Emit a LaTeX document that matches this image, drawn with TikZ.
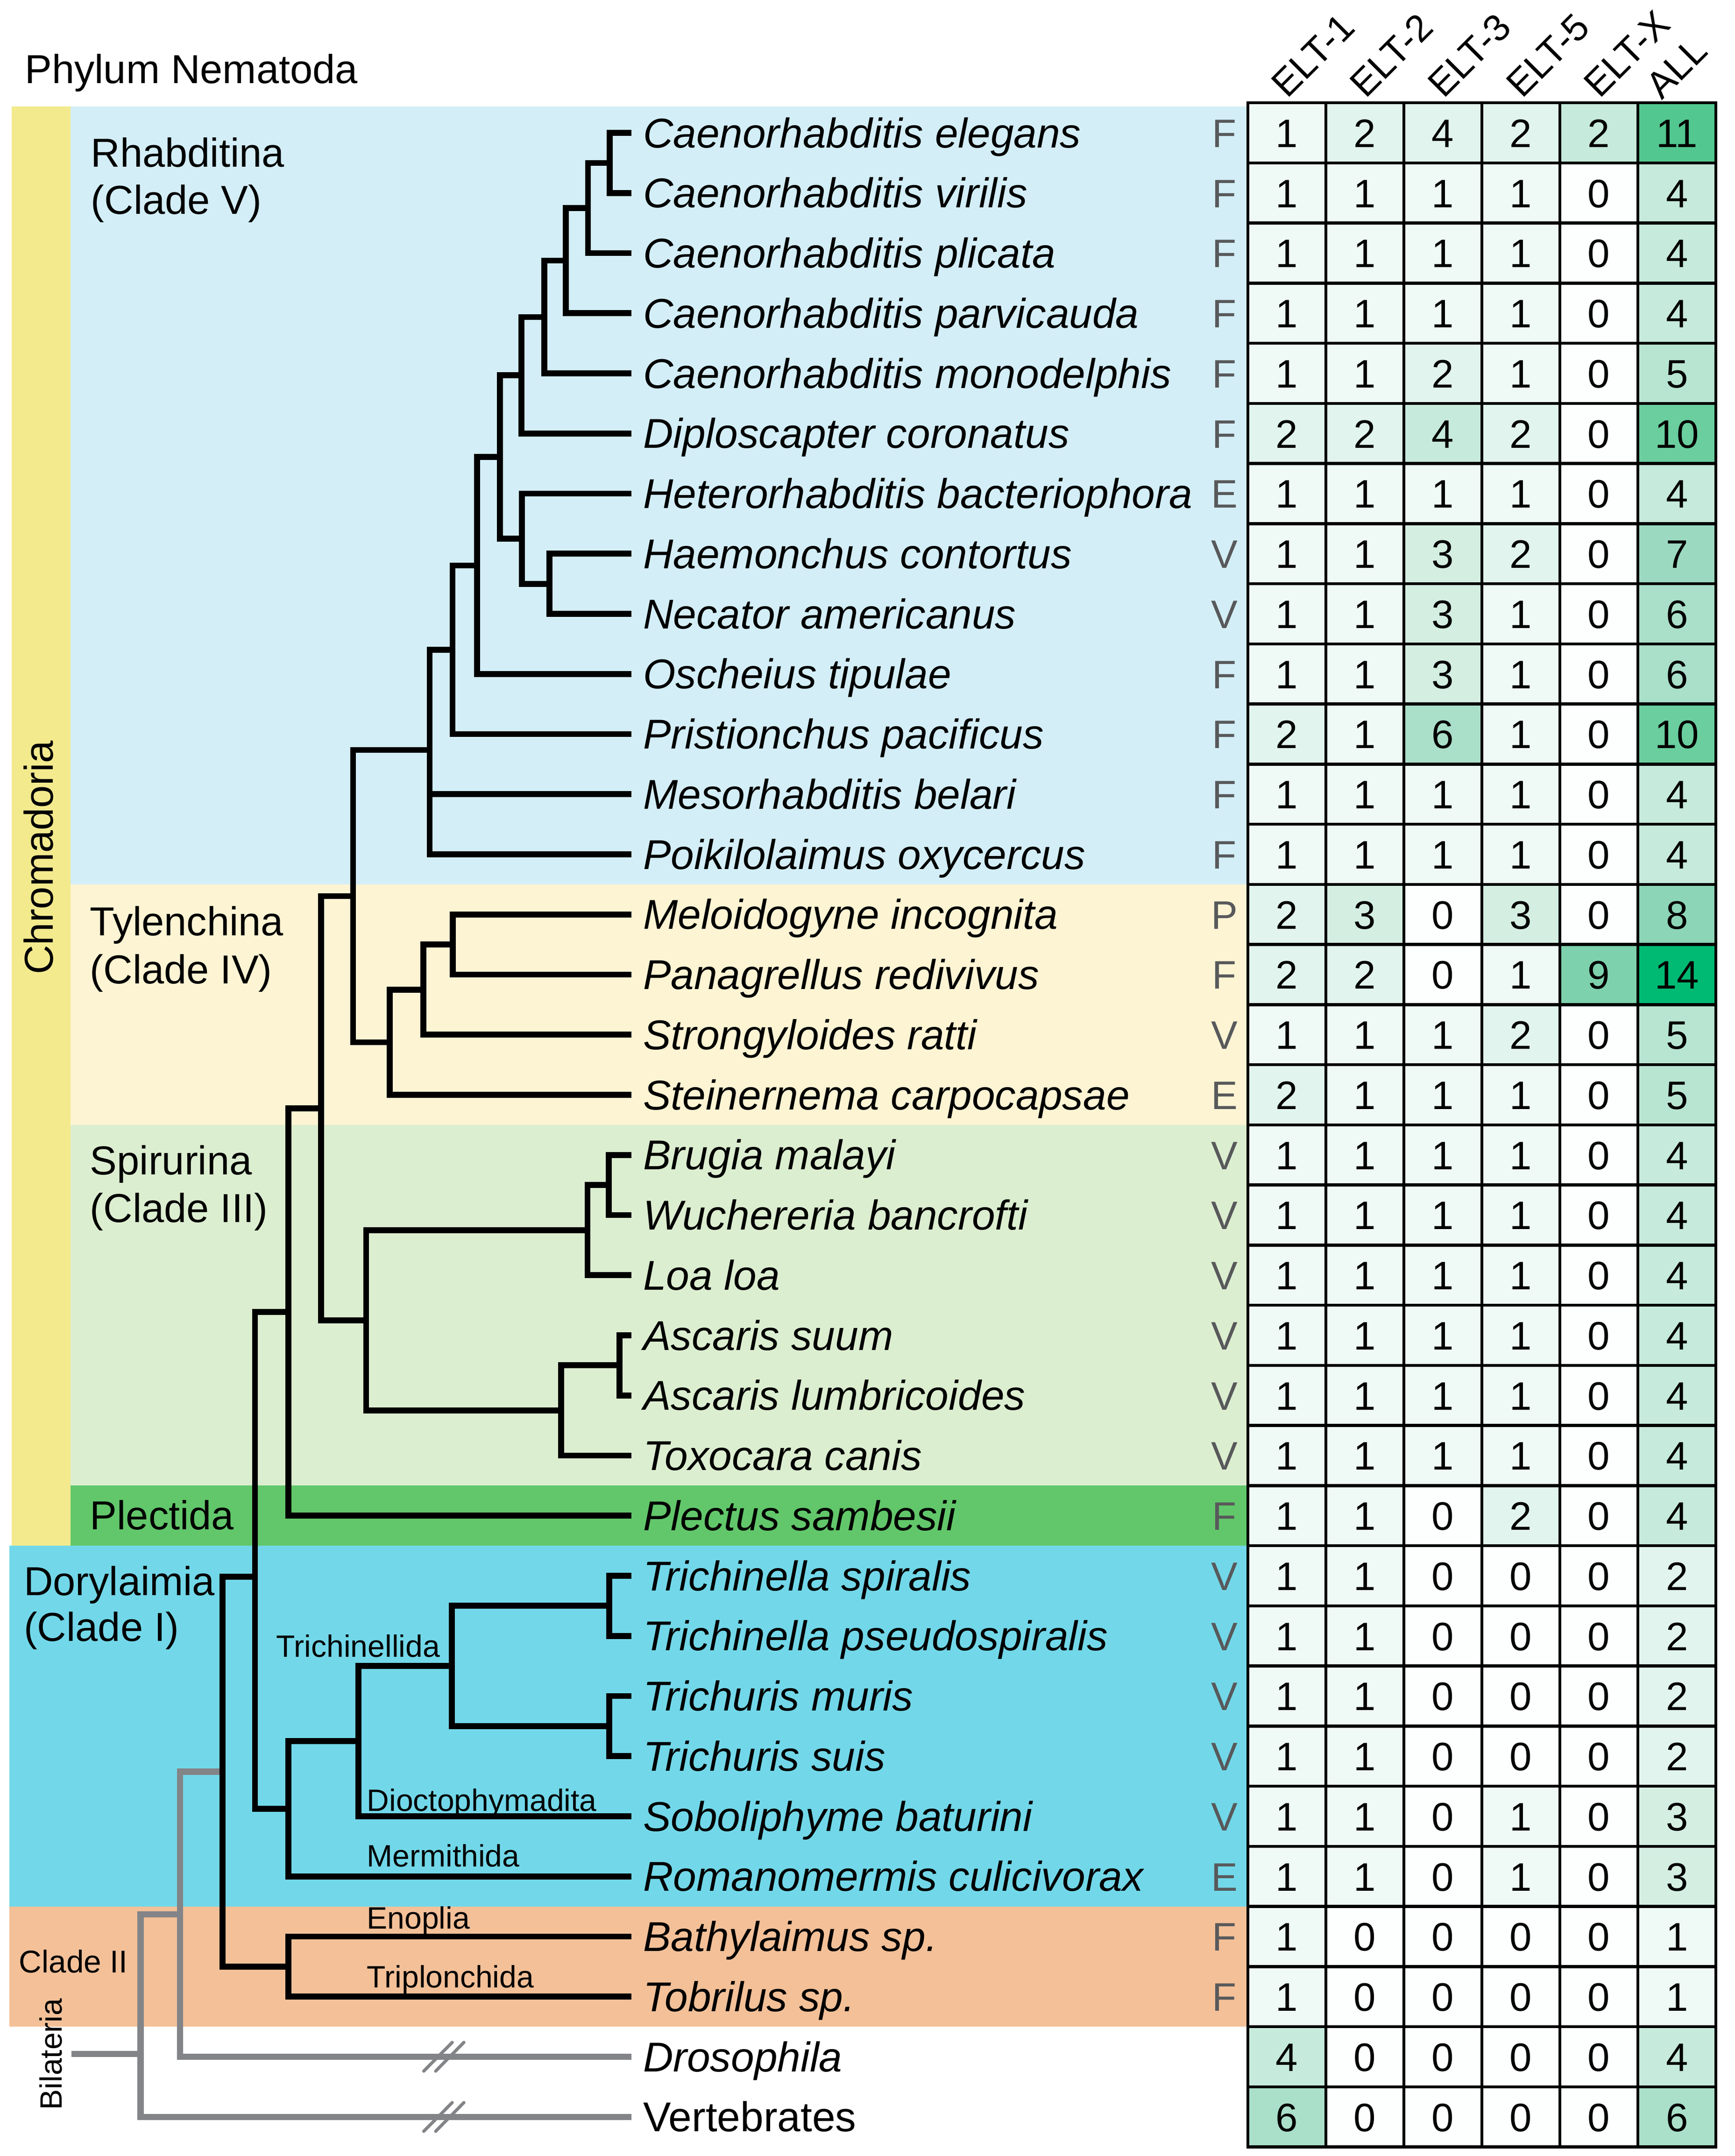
\documentclass[tikz,border=0pt]{standalone}
\usepackage{fontspec}
\setmainfont{Liberation Sans}
\definecolor{cYel}{RGB}{243,234,142}
\definecolor{cRha}{RGB}{211,238,247}
\definecolor{cTyl}{RGB}{253,244,211}
\definecolor{cSpi}{RGB}{220,238,208}
\definecolor{cPle}{RGB}{98,199,106}
\definecolor{cDor}{RGB}{114,216,233}
\definecolor{cClII}{RGB}{243,192,152}
\definecolor{cGray}{RGB}{131,132,136}
\definecolor{cLife}{RGB}{88,89,91}
\definecolor{v0}{RGB}{253,254,254}
\definecolor{v1}{RGB}{239,249,246}
\definecolor{v2}{RGB}{225,244,237}
\definecolor{v3}{RGB}{212,239,226}
\definecolor{v4}{RGB}{198,234,219}
\definecolor{v5}{RGB}{184,229,210}
\definecolor{v6}{RGB}{170,223,201}
\definecolor{v7}{RGB}{155,218,192}
\definecolor{v8}{RGB}{141,213,183}
\definecolor{v9}{RGB}{125,209,172}
\definecolor{v10}{RGB}{106,206,158}
\definecolor{v11}{RGB}{82,199,143}
\definecolor{v14}{RGB}{0,186,116}
\newcommand\fsz[2]{\fontsize{#1}{#2}\selectfont}
\begin{document}
\begin{tikzpicture}[x=1pt,y=-1pt,
  tree/.style={line width=4.3pt, black, line join=miter},
  gline/.style={line width=4.5pt, draw=cGray},
  slashmark/.style={line width=2.3pt, draw=cGray, line cap=round},
  gridline/.style={line width=2.2pt, black},
  lbl/.style={inner sep=0pt, outer sep=0pt, anchor=base west, font=\fsz{29.5}{35}},
  spname/.style={inner sep=0pt, outer sep=0pt, anchor=base west, font=\fsz{30.4}{36}\itshape},
  sublbl/.style={inner sep=0pt, outer sep=0pt, anchor=base west, font=\fsz{22.5}{27}},
  num/.style={inner sep=0pt, outer sep=0pt, anchor=base, font=\fsz{29}{35}},
  life/.style={inner sep=0pt, outer sep=0pt, anchor=base, font=\fsz{29}{35}, text=cLife},
  hdr/.style={inner sep=0pt, outer sep=0pt, anchor=base west, rotate=45, font=\fsz{27.5}{33}},
]
\useasboundingbox (0,0) rectangle (1265,1572.5);

% ---------- background bands ----------
\fill[cYel] (8.6,77.5) rectangle (51.5,1127.4);
\fill[cRha] (51.5,77.5) rectangle (910,645.05);
\fill[cTyl] (51.5,645.05) rectangle (910,820.45);
\fill[cSpi] (51.5,820.45) rectangle (910,1083.55);
\fill[cPle] (51.5,1083.55) rectangle (910,1127.4);
\fill[cDor] (6.9,1127.4) rectangle (910,1390.5);
\fill[cClII] (6.9,1390.5) rectangle (910,1478.2);

% ---------- table cell fills ----------
\def\tablerows{0/1/2/4/2/2/11, 1/1/1/1/1/0/4, 2/1/1/1/1/0/4, 3/1/1/1/1/0/4,
  4/1/1/2/1/0/5, 5/2/2/4/2/0/10, 6/1/1/1/1/0/4, 7/1/1/3/2/0/7, 8/1/1/3/1/0/6,
  9/1/1/3/1/0/6, 10/2/1/6/1/0/10, 11/1/1/1/1/0/4, 12/1/1/1/1/0/4, 13/2/3/0/3/0/8,
  14/2/2/0/1/9/14, 15/1/1/1/2/0/5, 16/2/1/1/1/0/5, 17/1/1/1/1/0/4, 18/1/1/1/1/0/4,
  19/1/1/1/1/0/4, 20/1/1/1/1/0/4, 21/1/1/1/1/0/4, 22/1/1/1/1/0/4, 23/1/1/0/2/0/4,
  24/1/1/0/0/0/2, 25/1/1/0/0/0/2, 26/1/1/0/0/0/2, 27/1/1/0/0/0/2, 28/1/1/0/1/0/3,
  29/1/1/0/1/0/3, 30/1/0/0/0/0/1, 31/1/0/0/0/0/1, 32/4/0/0/0/0/4, 33/6/0/0/0/0/6}
\foreach \r/\a/\b/\c/\d/\e/\f in \tablerows {
  \foreach \cc/\v in {0/\a,1/\b,2/\c,3/\d,4/\e,5/\f} {
    \pgfmathtruncatemacro\vv{\v}
    \fill[fill=v\vv] ({910+56.9*\cc},{75+43.85*\r}) rectangle ++(56.9,43.85);
  }
}
% shading as printed in the first row
\fill[fill=v2] ({910+56.9*2},75) rectangle ++(56.9,43.85);
\fill[fill=v4] ({910+56.9*4},75) rectangle ++(56.9,43.85);
\foreach \r/\a/\b/\c/\d/\e/\f in \tablerows {
  \foreach \cc/\v in {0/\a,1/\b,2/\c,3/\d,4/\e,5/\f} {
    \node[num] (t\r-\cc) at ({910+56.9*\cc+28.45},{75+43.85*\r+32.4}) {\v};
  }
}
% grid
\foreach \cc in {0,...,6} \draw[gridline] ({910+56.9*\cc},75) -- ({910+56.9*\cc},1565.9);
\foreach \r in {0,...,34} \draw[gridline] (910,{75+43.85*\r}) -- (1251.4,{75+43.85*\r});
\draw[gridline] (910,75) rectangle (1251.4,1565.9);

% ---------- column headers ----------
\node[hdr] (h1) at (938.9,72.3) {ELT-1};
\node[hdr] (h2) at (996.1,72.3) {ELT-2};
\node[hdr] (h3) at (1053,72.3) {ELT-3};
\node[hdr] (h5) at (1110.2,72.3) {ELT-5};
\node[hdr] (hX) at (1166.8,72.3) {ELT-X};
\node[hdr] (hAll) at (1212,73.5) {ALL};

% ---------- life-style letters ----------
\foreach \r/\l in {0/F,1/F,2/F,3/F,4/F,5/F,6/E,7/V,8/V,9/F,10/F,11/F,12/F,13/P,14/F,15/V,16/E,
  17/V,18/V,19/V,20/V,21/V,22/V,23/F,24/V,25/V,26/V,27/V,28/V,29/E,30/F,31/F}
  \node[life] (life\r) at (893,{75+43.85*\r+32.4}) {\l};

% ---------- species names ----------
\foreach \r/\n in {0/Caenorhabditis elegans, 1/Caenorhabditis virilis, 2/Caenorhabditis plicata,
  3/Caenorhabditis parvicauda, 4/Caenorhabditis monodelphis, 5/Diploscapter coronatus,
  6/Heterorhabditis bacteriophora, 7/Haemonchus contortus, 8/Necator americanus,
  9/Oscheius tipulae, 10/Pristionchus pacificus, 11/Mesorhabditis belari,
  12/Poikilolaimus oxycercus, 13/Meloidogyne incognita, 14/Panagrellus redivivus,
  15/Strongyloides ratti, 16/Steinernema carpocapsae, 17/Brugia malayi,
  18/Wuchereria bancrofti, 19/Loa loa, 20/Ascaris suum, 21/Ascaris lumbricoides,
  22/Toxocara canis, 23/Plectus sambesii, 24/Trichinella spiralis,
  25/Trichinella pseudospiralis, 26/Trichuris muris, 27/Trichuris suis,
  28/Soboliphyme baturini, 29/Romanomermis culicivorax, 30/Bathylaimus sp.,
  31/Tobrilus sp., 32/Drosophila}
  \node[spname] (sp\r) at (469,{96.9+43.85*\r+10.75}) {\n};
\node[spname, font=\fsz{30.4}{36}] (sp33) at (469,{96.9+43.85*33+10.75}) {Vertebrates};

% ---------- group labels ----------
\node[lbl] (phylum) at (18.2,60.8) {Phylum Nematoda};
\node[lbl] (rhab1) at (66.3,121.6) {Rhabditina};
\node[lbl] (rhab2) at (66.3,156) {(Clade V)};
\node[lbl] (tyl1) at (65.7,682.2) {Tylenchina};
\node[lbl] (tyl2) at (65.7,717.3) {(Clade IV)};
\node[lbl] (spi1) at (65.7,856.7) {Spirurina};
\node[lbl] (spi2) at (65.7,891.4) {(Clade III)};
\node[lbl] (plec) at (65.7,1115.5) {Plectida};
\node[lbl] (dor1) at (17.4,1163.5) {Dorylaimia};
\node[lbl] (dor2) at (17.4,1197) {(Clade I)};
\node[lbl, font=\fsz{23}{28}] (cl2) at (13.9,1438.7) {Clade II};
\node[lbl, rotate=90, anchor=base] (chrom) at (38.8,625.4) {Chromadoria};
\node[sublbl, rotate=90, anchor=base] (bil) at (45.2,1498.2) {Bilateria};
\node[sublbl] (trl) at (201.6,1208.4) {Trichinellida};
\node[sublbl] (dio) at (267.6,1320.9) {Dioctophymadita};
\node[sublbl] (mer) at (267.6,1361.4) {Mermithida};
\node[sublbl] (eno) at (267.6,1406.7) {Enoplia};
\node[sublbl] (tri) at (267.6,1449.6) {Triplonchida};

% ---------- tree coordinates ----------
\foreach \r in {0,...,33} \coordinate (leaf\r) at (460.5,{96.9+43.85*\r});
\coordinate (nA) at (444.6,118.8);
\coordinate (nB) at (428.8,151.7);
\coordinate (nC) at (412.7,190.1);
\coordinate (nD) at (397,231.2);
\coordinate (nE) at (380.3,273.7);
\coordinate (nI) at (400.8,425.8);
\coordinate (nH) at (380.5,392.9);
\coordinate (nG) at (364.6,333.3);
\coordinate (nJ) at (347.9,412.4);
\coordinate (nK) at (330,473.9);
\coordinate (nL) at (313.4,547);
\coordinate (nP) at (330.2,688.9);
\coordinate (nO) at (308.7,721.8);
\coordinate (nN) at (284.3,760.2);
\coordinate (nM) at (257.5,653.6);
\coordinate (nBW) at (444,864.3);
\coordinate (nS) at (428.4,897.2);
\coordinate (nU) at (451.8,995.8);
\coordinate (nT) at (409.2,1028.7);
\coordinate (nR) at (267,963);
\coordinate (nQ) at (234.2,808.3);
\coordinate (nV) at (210.4,956.9);
\coordinate (nAC) at (444.2,1171.2);
\coordinate (nAD) at (444.2,1258.9);
\coordinate (nAB) at (329.5,1215.1);
\coordinate (nAA) at (261.4,1269.9);
\coordinate (nX) at (210.3,1319.2);
\coordinate (nW) at (186,1150);
\coordinate (nZ) at (210.3,1434.3);
\coordinate (nY) at (162.3,1292.2);
\coordinate (nG1) at (131.4,1396.2);
\coordinate (nG2) at (102.5,1498);
\coordinate (root) at (52,1498);

% ---------- outgroup (grey) ----------
\draw[gline] (nY) -| (nG1) |- (leaf32);
\draw[gline] (nG1) -| (nG2) |- (leaf33);
\draw[gline] (root) -- (nG2);
\draw[slashmark] (309,1510.6) -- (329.8,1489.6);
\draw[slashmark] (317.7,1510.6) -- (338.3,1489.6);
\draw[slashmark] (309,1554.5) -- (329.8,1533.5);
\draw[slashmark] (317.7,1554.5) -- (338.3,1533.5);

% ---------- nematode tree ----------
\draw[tree] (leaf0) -| (nA) |- (leaf1);
\draw[tree] (nA) -| (nB) |- (leaf2);
\draw[tree] (nB) -| (nC) |- (leaf3);
\draw[tree] (nC) -| (nD) |- (leaf4);
\draw[tree] (nD) -| (nE) |- (leaf5);
\draw[tree] (leaf7) -| (nI) |- (leaf8);
\draw[tree] (leaf6) -| (nH) |- (nI);
\draw[tree] (nE) -| (nG) |- (nH);
\draw[tree] (nG) -| (nJ) |- (leaf9);
\draw[tree] (nJ) -| (nK) |- (leaf10);
\draw[tree] (nK) -| (nL) |- (leaf12);
\draw[tree] (nL) |- (leaf11);
\draw[tree] (leaf13) -| (nP) |- (leaf14);
\draw[tree] (nP) -| (nO) |- (leaf15);
\draw[tree] (nO) -| (nN) |- (leaf16);
\draw[tree] (nL) -| (nM) |- (nN);
\draw[tree] (leaf17) -| (nBW) |- (leaf18);
\draw[tree] (nBW) -| (nS) |- (leaf19);
\draw[tree] (leaf20) -| (nU) |- (leaf21);
\draw[tree] (nU) -| (nT) |- (leaf22);
\draw[tree] (nS) -| (nR) |- (nT);
\draw[tree] (nM) -| (nQ) |- (nR);
\draw[tree] (nQ) -| (nV) |- (leaf23);
\draw[tree] (leaf24) -| (nAC) |- (leaf25);
\draw[tree] (leaf26) -| (nAD) |- (leaf27);
\draw[tree] (nAC) -| (nAB) |- (nAD);
\draw[tree] (nAB) -| (nAA) |- (leaf28);
\draw[tree] (nAA) -| (nX) |- (leaf29);
\draw[tree] (nV) -| (nW) |- (nX);
\draw[tree] (leaf30) -| (nZ) |- (leaf31);
\draw[tree] (nW) -| (nY) |- (nZ);
\end{tikzpicture}
\end{document}
